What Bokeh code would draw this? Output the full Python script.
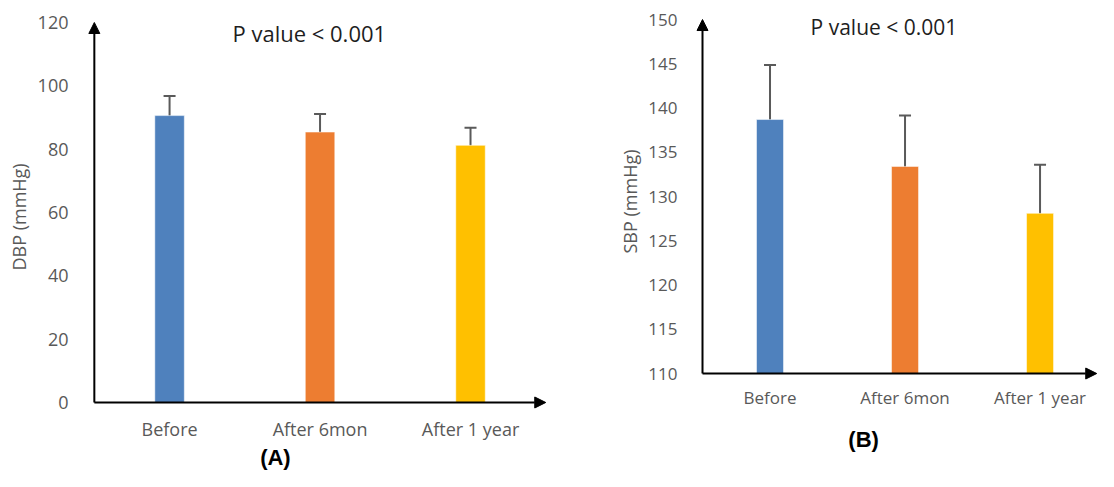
from bokeh.plotting import figure
from bokeh.layouts import row
from bokeh.models import (ColumnDataSource, Range1d, FixedTicker, Whisker, TeeHead,
                          Arrow, NormalHead, Label, Title)
from bokeh.core.properties import value
from bokeh.embed import file_html
from bokeh.resources import INLINE

# ---------------- data ----------------
categories = ["Before", "After 6mon", "After 1 year"]
colors = ["#4F81BD", "#ED7D31", "#FFC000"]

dbp_mean = [90.6, 85.4, 81.2]
dbp_err = [6.2, 5.7, 5.6]

sbp_mean = [138.7, 133.4, 128.1]
sbp_err = [6.15, 5.75, 5.5]

dbp_ticks = [0, 20, 40, 60, 80, 100, 120]
sbp_ticks = [110, 115, 120, 125, 130, 135, 140, 145, 150]

title_text = "P value < 0.001"
panel_labels = ["(A)", "(B)"]

FONT = "Open Sans"
GRAY = "#595959"


def make_panel(means, errs, yticks, ylabel, panel, width, height, bl,
               xr, yr, xend, tick_fs, cat_fs, title_fs, title_pos, panel_pos,
               cat_y, tick_standoff, ylab_offset, bar_w):
    x = [i + 0.5 for i in range(len(categories))]
    src = ColumnDataSource(dict(
        x=x, top=means, color=colors, name=categories,
        upper=[m + e for m, e in zip(means, errs)],
        lower=[m - e for m, e in zip(means, errs)],
    ))
    ymin, ymax = yticks[0], yticks[-1]
    p = figure(width=width, height=height, output_backend="svg", toolbar_location=None,
               x_range=Range1d(*xr), y_range=Range1d(*yr), x_axis_location=None,
               min_border_left=bl, min_border_right=0, min_border_top=0,
               min_border_bottom=0)
    p.outline_line_color = None
    p.grid.grid_line_color = None
    p.background_fill_color = "white"
    p.border_fill_color = "white"

    p.vbar(x="x", top="top", bottom=ymin, width=bar_w, color="color", source=src,
           line_color="white", line_alpha=0.5, line_width=1)

    p.add_layout(Whisker(base="x", upper="upper", lower="lower", source=src,
                         line_color="#5a5a5a", line_width=2,
                         upper_head=TeeHead(size=12, line_color="#5a5a5a", line_width=2),
                         lower_head=TeeHead(size=12, line_color="#5a5a5a", line_width=2)))

    # axes with arrowheads
    p.add_layout(Arrow(x_start=0, y_start=ymin, x_end=0, y_end=ymax, line_width=2,
                       line_color="black",
                       end=NormalHead(size=11, fill_color="black", line_color="black")))
    p.add_layout(Arrow(x_start=0, y_start=ymin, x_end=xend, y_end=ymin, line_width=2,
                       line_color="black",
                       end=NormalHead(size=11, fill_color="black", line_color="black")))

    # category labels under the bars
    p.text(x="x", y=cat_y, text="name", source=src, text_align="center",
           text_baseline="alphabetic", text_font=value(FONT),
           text_font_size=f"{cat_fs}px", text_color=GRAY)

    ax = p.yaxis[0]
    ax.axis_line_color = None
    ax.major_tick_line_color = None
    ax.minor_tick_line_color = None
    ax.major_label_text_color = GRAY
    ax.major_label_text_font = FONT
    ax.ticker = FixedTicker(ticks=yticks)
    ax.major_label_text_font_size = f"{tick_fs}px"
    ax.major_label_standoff = tick_standoff

    # y axis title, placed along the axis extent rather than the frame
    p.add_layout(Title(text=ylabel, align="left", offset=ylab_offset,
                       text_font=FONT, text_font_size="18px", text_font_style="normal",
                       text_color=GRAY, standoff=8), "left")

    p.add_layout(Label(x=title_pos[0], y=title_pos[1], text=title_text,
                       text_align="center", text_baseline="alphabetic",
                       text_font=FONT, text_font_size=f"{title_fs}px",
                       text_color="#1e1e1e"))
    p.add_layout(Label(x=panel_pos[0], y=panel_pos[1], text=panel,
                       text_align="center", text_baseline="alphabetic",
                       text_font="Liberation Sans", text_font_style="bold",
                       text_font_size="22px", text_color="black"))
    return p


p1 = make_panel(dbp_mean, dbp_err, dbp_ticks, "DBP (mmHg)", panel_labels[0],
                width=560, height=471, bl=76,
                xr=(-0.0587, 3.098), yr=(-21.79, 126.95), xend=3.0,
                tick_fs=18, cat_fs=18, title_fs=22, title_pos=(1.4286, 116.83),
                panel_pos=(1.2035, -17.5), cat_y=-8.52,
                tick_standoff=11, ylab_offset=201, bar_w=0.196)
p2 = make_panel(sbp_mean, sbp_err, sbp_ticks, "SBP (mmHg)", panel_labels[1],
                width=538, height=471, bl=133,
                xr=(-0.0667, 2.933), yr=(98.93, 152.15), xend=2.92,
                tick_fs=17, cat_fs=17, title_fs=21, title_pos=(1.344, 149.10),
                panel_pos=(1.193, 102.55), cat_y=107.29,
                tick_standoff=10, ylab_offset=218, bar_w=0.2)

layout = row(p1, p2)
open("out.html", "w").write(file_html(layout, INLINE))
